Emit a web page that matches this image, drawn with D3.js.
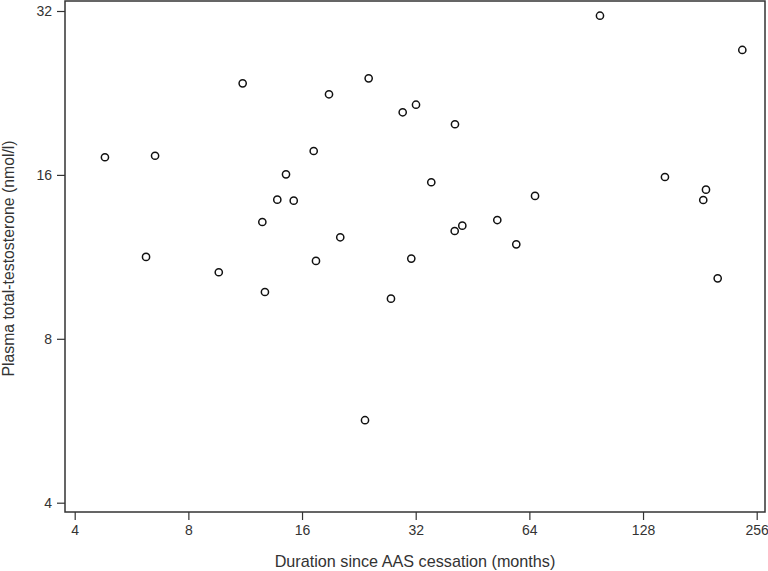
<!DOCTYPE html>
<html>
<head>
<meta charset="utf-8">
<script src="https://cdn.jsdelivr.net/npm/d3@7/dist/d3.min.js"></script>
<style>
  html, body { margin: 0; padding: 0; background: #fff; }
  svg { display: block; }
  text { font-family: "Liberation Sans", Arial, sans-serif; fill: #333; }
</style>
</head>
<body>
<svg id="chart" width="768" height="571"></svg>
<script>
// Duration since AAS cessation (months)
const durationMonths = [4.81, 6.53, 6.18, 9.63, 11.14, 12.56, 12.76, 13.76, 14.51, 15.21,
  17.18, 17.42, 18.86, 20.20, 23.49, 24.02, 27.52, 29.56, 31.15, 32.06,
  35.19, 40.66, 40.59, 42.52, 52.63, 59.09, 66.25, 98.44, 146.3, 187.9,
  184.8, 201.8, 234.5];
// Plasma total-testosterone (nmol/l)
const testosterone = [17.24, 17.35, 11.31, 10.60, 23.57, 13.11, 9.75, 14.41, 16.04, 14.35,
  17.70, 11.12, 22.50, 12.29, 5.67, 24.07, 9.48, 20.85, 11.23, 21.53,
  15.51, 19.82, 12.62, 12.91, 13.22, 11.93, 14.64, 31.37, 15.86, 15.03,
  14.39, 10.33, 27.14];
const xTicks = [4, 8, 16, 32, 64, 128, 256];
const yTicks = [4, 8, 16, 32];
const xTitle = "Duration since AAS cessation (months)";
const yTitle = "Plasma total-testosterone (nmol/l)";

const svg = d3.select("#chart");
const frame = { left: 65, right: 765, top: 1, bottom: 512 };

const x = d3.scaleLog().base(2).domain([4, 256]).range([74.7, 756.7]);
const y = d3.scaleLog().base(2).domain([4, 32]).range([502.7, 11]);

// frame
svg.append("rect")
  .attr("x", frame.left).attr("y", frame.top)
  .attr("width", frame.right - frame.left).attr("height", frame.bottom - frame.top)
  .attr("fill", "none").attr("stroke", "#333").attr("stroke-width", 1.5);

// x axis
const xAxis = svg.append("g")
  .attr("transform", `translate(0,${frame.bottom})`)
  .call(d3.axisBottom(x).tickValues(xTicks).tickFormat(d3.format("d")).tickSize(8).tickPadding(5));
xAxis.select(".domain").remove();
xAxis.selectAll("line").attr("stroke", "#333").attr("stroke-width", 1.2);
xAxis.selectAll("text").style("font-size", "14px").attr("fill", "#333")
  .style("font-family", "'Liberation Sans', Arial, sans-serif");

// y axis
const yAxis = svg.append("g")
  .attr("transform", `translate(${frame.left},0)`)
  .call(d3.axisLeft(y).tickValues(yTicks).tickFormat(d3.format("d")).tickSize(8).tickPadding(5));
yAxis.select(".domain").remove();
yAxis.selectAll("line").attr("stroke", "#333").attr("stroke-width", 1.2);
yAxis.selectAll("text").style("font-size", "14px").attr("fill", "#333")
  .style("font-family", "'Liberation Sans', Arial, sans-serif");

// titles
svg.append("text")
  .attr("x", (frame.left + frame.right) / 2).attr("y", 567)
  .attr("text-anchor", "middle").style("font-size", "16.2px")
  .text(xTitle);
svg.append("text")
  .attr("transform", `translate(14,${(frame.top + frame.bottom) / 2 + 2}) rotate(-90)`)
  .attr("text-anchor", "middle").style("font-size", "15.8px")
  .text(yTitle);

// points
const pts = durationMonths.map((d, i) => ({ d, t: testosterone[i] }));
svg.append("g").selectAll("circle").data(pts).enter().append("circle")
  .attr("cx", p => x(p.d)).attr("cy", p => y(p.t)).attr("r", 3.6)
  .attr("fill", "#fff").attr("stroke", "#111").attr("stroke-width", 1.5);
</script>
</body>
</html>
